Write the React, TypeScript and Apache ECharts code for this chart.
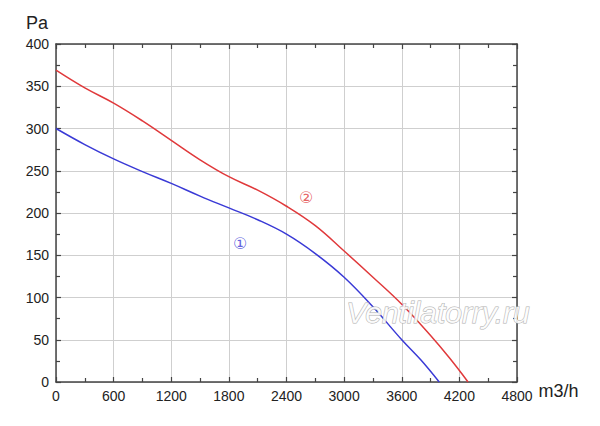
import React, { useEffect, useRef } from "react";
import * as echarts from "echarts";

const xTicks = [0, 600, 1200, 1800, 2400, 3000, 3600, 4200, 4800];
const yTicks = [0, 50, 100, 150, 200, 250, 300, 350, 400];

const curve1Flow = [0, 300, 600, 900, 1200, 1500, 1800, 2100, 2400, 2700, 3000, 3300, 3600, 3800, 3990];
const curve1Pressure = [300, 281, 264, 249, 235, 220, 206, 192, 175, 152, 124, 89, 50, 26, 0];

const curve2Flow = [0, 300, 600, 900, 1200, 1500, 1800, 2100, 2400, 2700, 3000, 3300, 3600, 3900, 4100, 4290];
const curve2Pressure = [369, 348, 330, 309, 286, 263, 243, 227, 208, 185, 155, 124, 92, 55, 28, 0];

const labelNames = ["①", "②"];
const labelFlow = [1917, 2604];
const labelPressure = [164, 218];

const RED = "#e0393b";
const BLUE = "#3a3ad6";

export default function App() {
  const ref = useRef<HTMLDivElement>(null);
  useEffect(() => {
    if (!ref.current) return;
    const chart = echarts.init(ref.current, null, { renderer: "svg" });
    const font = "'Liberation Sans', Arial, sans-serif";
    const xMin = xTicks[0];
    const xMax = xTicks[xTicks.length - 1];
    const xInt = xTicks[1] - xTicks[0];
    const yMin = yTicks[0];
    const yMax = yTicks[yTicks.length - 1];
    const yInt = yTicks[1] - yTicks[0];
    const axisLine = { show: true, onZero: false, lineStyle: { color: "#444", width: 1.5 } };
    const tick = { show: true, inside: true, length: 5, lineStyle: { color: "#444", width: 1.2 } };
    const minor = { show: true, splitNumber: 2, length: 4, lineStyle: { color: "#444", width: 1.2 } };
    const zip = (a: number[], b: number[]) => a.map((v, i) => [v, b[i]]);
    const plain = (v: number) => String(v);
    chart.setOption({
      animation: false,
      backgroundColor: "#fff",
      grid: { left: 56, top: 44, width: 461, height: 338, containLabel: false },
      xAxis: [
        {
          type: "value",
          position: "bottom",
          min: xMin,
          max: xMax,
          interval: xInt,
          axisLine,
          axisTick: tick,
          minorTick: minor,
          splitLine: { show: true, lineStyle: { color: "#cfcfcf", width: 1 } },
          axisLabel: { color: "#222", fontSize: 14, fontFamily: font, margin: 7, formatter: plain },
          name: "m3/h",
          nameLocation: "end",
          nameGap: 16,
          nameTextStyle: { color: "#222", fontSize: 18, fontFamily: font, verticalAlign: "top", align: "left" },
        },
        {
          type: "value",
          position: "top",
          min: xMin,
          max: xMax,
          interval: xInt,
          axisLine,
          axisTick: tick,
          minorTick: minor,
          splitLine: { show: false },
          axisLabel: { show: false },
        },
      ],
      yAxis: [
        {
          type: "value",
          position: "left",
          min: yMin,
          max: yMax,
          interval: yInt,
          axisLine,
          axisTick: tick,
          minorTick: minor,
          splitLine: { show: true, lineStyle: { color: "#cfcfcf", width: 1 } },
          axisLabel: { color: "#222", fontSize: 14, fontFamily: font, margin: 7, formatter: plain },
          name: "Pa",
          nameLocation: "end",
          nameGap: 12,
          nameTextStyle: { color: "#222", fontSize: 18, fontFamily: font, align: "right", padding: [0, 8, 0, 0] },
        },
        {
          type: "value",
          position: "right",
          min: yMin,
          max: yMax,
          interval: yInt,
          axisLine,
          axisTick: tick,
          minorTick: minor,
          splitLine: { show: false },
          axisLabel: { show: false },
        },
      ],
      series: [
        {
          type: "line",
          name: "1",
          data: zip(curve1Flow, curve1Pressure),
          smooth: 0.4,
          showSymbol: false,
          lineStyle: { color: BLUE, width: 1.5 },
          z: 3,
        },
        {
          type: "line",
          name: "2",
          data: zip(curve2Flow, curve2Pressure),
          smooth: 0.4,
          showSymbol: false,
          lineStyle: { color: RED, width: 1.5 },
          z: 3,
        },
        {
          type: "scatter",
          data: labelNames.map((n, i) => ({
            value: [labelFlow[i], labelPressure[i]],
            label: {
              show: true,
              position: "inside",
              formatter: n,
              color: i === 0 ? BLUE : RED,
              fontSize: 16,
              fontFamily: "'DejaVu Sans', sans-serif",
            },
          })),
          symbolSize: 1,
          itemStyle: { color: "rgba(0,0,0,0)" },
          z: 4,
        },
      ],
      graphic: [
        {
          type: "text",
          x: 438,
          y: 312,
          z: 10,
          style: {
            text: "Ventilatorry.ru",
            fontSize: 30,
            fontStyle: "italic",
            fontFamily: font,
            fill: "rgba(255,255,255,0.85)",
            stroke: "#b0b0b0",
            lineWidth: 1,
            align: "center",
            verticalAlign: "middle",
          },
        },
      ],
    });
    return () => chart.dispose();
  }, []);
  return (
    <div
      ref={ref}
      style={{ position: "absolute", left: 0, top: 0, width: 600, height: 426, background: "#fff" }}
    />
  );
}
